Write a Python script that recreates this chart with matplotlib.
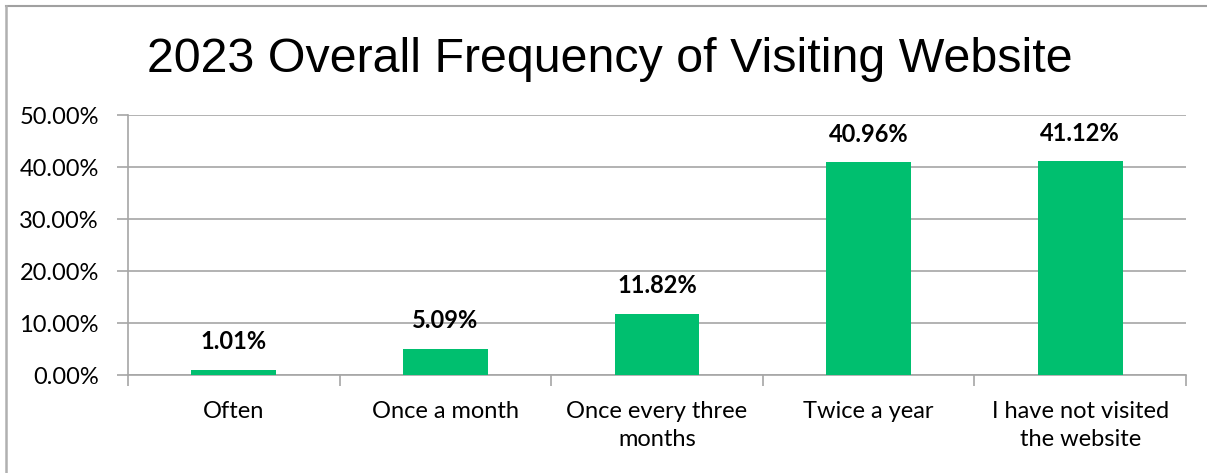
import matplotlib
matplotlib.use("Agg")

import matplotlib.pyplot as plt
from matplotlib.lines import Line2D
from matplotlib.ticker import FuncFormatter, FixedLocator

categories = [
    "Often",
    "Once a month",
    "Once every three\nmonths",
    "Twice a year",
    "I have not visited\nthe website",
]
shares = [0.0101, 0.0509, 0.1182, 0.4096, 0.4112]
y_ticks = [0.0, 0.1, 0.2, 0.3, 0.4, 0.5]

W, H = 1207, 473
BAR_COLOR = "#00BF6F"
GRID_COLOR = "#A6A6A6"
LABEL_FONT = ["Lato", "DejaVu Sans"]

fig = plt.figure(figsize=(W / 100, H / 100), dpi=100)
ax = fig.add_axes([128 / W, 1 - 375 / H, (1186 - 128) / W, (375 - 115) / H])

x = list(range(len(categories)))
ax.bar(x, shares, width=0.4, color=BAR_COLOR, zorder=3)

ax.set_xlim(-0.5, len(categories) - 0.5)
ax.set_ylim(0, 0.5)

ax.set_yticks(y_ticks)
ax.yaxis.set_major_formatter(FuncFormatter(lambda v, _: f"{v * 100:.2f}%"))
ax.grid(axis="y", color=GRID_COLOR, linewidth=1.2, zorder=0)

ax.set_xticks(x)
ax.set_xticklabels(categories)
ax.xaxis.set_minor_locator(FixedLocator([i - 0.5 for i in range(len(categories) + 1)]))
ax.tick_params(axis="x", which="major", length=0, pad=19)
ax.tick_params(axis="x", which="minor", length=8, width=1.2, color=GRID_COLOR)
ax.tick_params(axis="y", length=8, width=1.2, color=GRID_COLOR, pad=13)

for lbl in ax.get_xticklabels() + ax.get_yticklabels():
    lbl.set_fontfamily(LABEL_FONT)
    lbl.set_fontsize(17)
    lbl.set_color("#000000")
for lbl in ax.get_xticklabels():
    lbl.set_linespacing(1.4)

for side in ["top", "right"]:
    ax.spines[side].set_visible(False)
for side in ["left", "bottom"]:
    ax.spines[side].set_color(GRID_COLOR)
    ax.spines[side].set_linewidth(1.2)

for xi, v in zip(x, shares):
    ax.annotate(
        f"{v * 100:.2f}%",
        (xi, v),
        xytext=(0, 20),
        textcoords="offset points",
        ha="center",
        va="center",
        fontsize=17,
        fontweight="bold",
        family=LABEL_FONT,
    )

fig.text(
    610 / W,
    1 - 60 / H,
    "2023 Overall Frequency of Visiting Website",
    ha="center",
    va="center",
    fontsize=34.8,
    family=["Liberation Sans", "DejaVu Sans"],
)

# outer chart border (top and left edges only visible)
fig.add_artist(Line2D([6 / W, 1], [1 - 6.5 / H, 1 - 6.5 / H], color="#A0A0A0", linewidth=1.5))
fig.add_artist(Line2D([6 / W, 6 / W], [0, 1 - 6.5 / H], color="#B0B0B0", linewidth=1.8))

fig.savefig("out.png", dpi=100)
plt.close(fig)
